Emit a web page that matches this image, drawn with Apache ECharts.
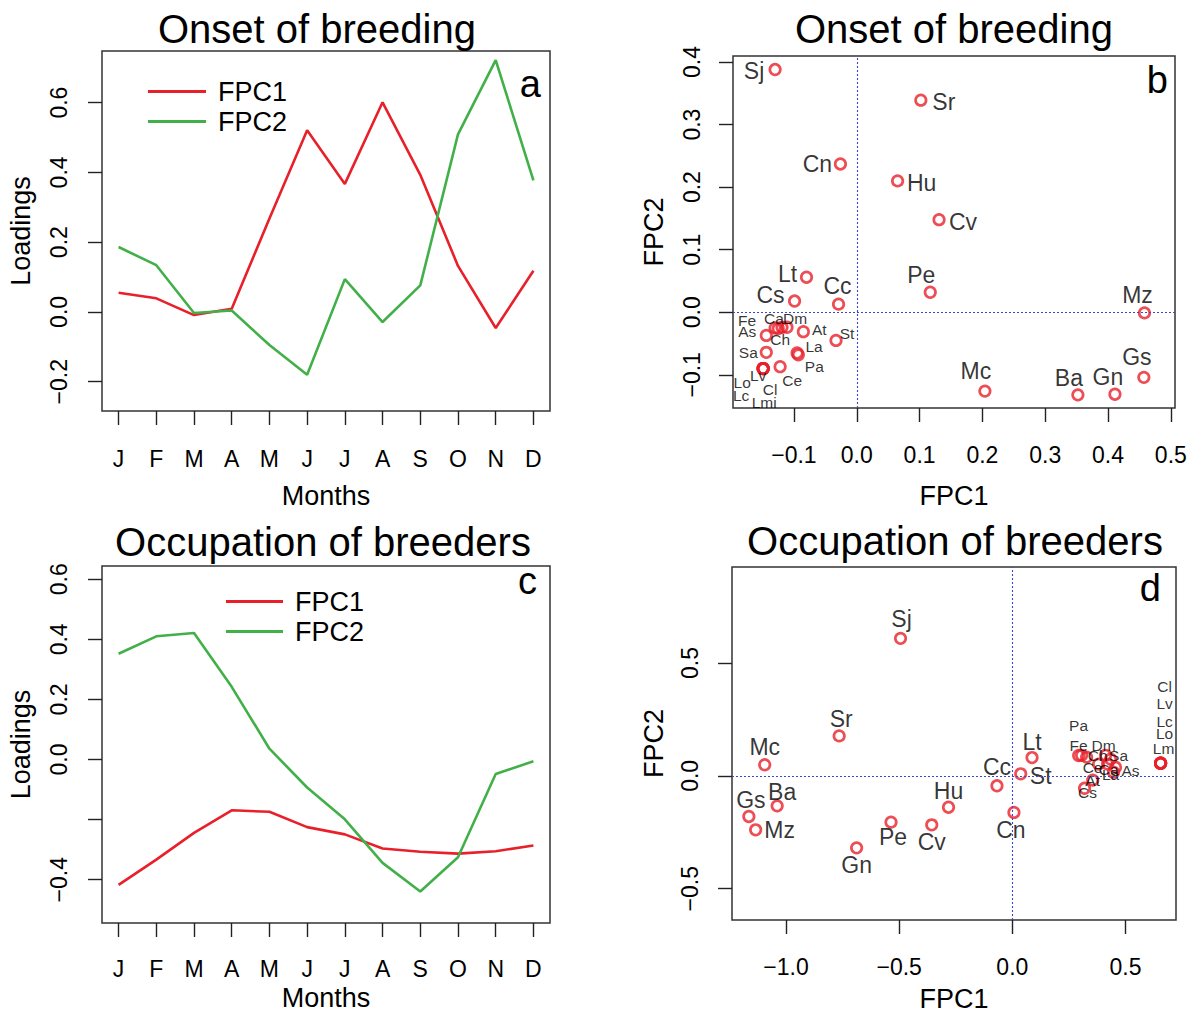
<!DOCTYPE html>
<html><head><meta charset="utf-8">
<script src="https://cdn.jsdelivr.net/npm/echarts@6/dist/echarts.min.js"></script>
<style>html,body{margin:0;padding:0;background:#fff}#c{width:1193px;height:1012px}</style>
</head><body><div id="c"></div>
<script>
// ---------- data ----------
const months = ['J','F','M','A','M','J','J','A','S','O','N','D'];
const onsetFPC1 = [0.055,0.039,-0.009,0.009,0.268,0.521,0.367,0.601,0.393,0.132,-0.046,0.118];
const onsetFPC2 = [0.186,0.134,-0.003,0.004,-0.095,-0.180,0.094,-0.029,0.076,0.509,0.722,0.377];
const occFPC1 = [-0.417,-0.333,-0.244,-0.169,-0.174,-0.225,-0.249,-0.296,-0.307,-0.313,-0.305,-0.286];
const occFPC2 = [0.352,0.410,0.421,0.242,0.036,-0.093,-0.199,-0.344,-0.439,-0.325,-0.048,-0.006];

const onsetSpecies = ['Sj','Sr','Cn','Hu','Cv','Pe','Lt','Cs','Cc','Mz','Gs','Mc','Ba','Gn',
  'Fe','Ch','Ca','Dm','As','At','St','Sa','La','Pa','Ce','Lv','Lo','Cl','Lc','Lmi'];
const onsetScore1 = [-0.130,0.102,-0.026,0.065,0.131,0.117,-0.080,-0.099,-0.029,0.458,0.457,0.204,0.352,0.411,
  -0.130,-0.125,-0.119,-0.111,-0.144,-0.085,-0.033,-0.144,-0.095,-0.093,-0.122,-0.149,-0.149,-0.149,-0.149,-0.149];
const onsetScore2 = [0.388,0.339,0.237,0.210,0.148,0.032,0.056,0.018,0.013,-0.001,-0.104,-0.126,-0.132,-0.131,
  -0.025,-0.026,-0.024,-0.024,-0.037,-0.031,-0.045,-0.064,-0.065,-0.068,-0.087,-0.090,-0.090,-0.090,-0.090,-0.090];

const occSpecies = ['Sj','Sr','Mc','Ba','Gs','Mz','Gn','Pe','Cv','Hu','Cc','Cn','Lt','St',
  'Lm','Lo','Lc','Lv','Cl','Pa','Fe','Ch','Dm','Sa','Ce','Ca','La','As','At','Cs'];
const occScore1 = [-0.494,-0.765,-1.094,-1.039,-1.164,-1.134,-0.688,-0.536,-0.356,-0.282,-0.068,0.007,0.087,0.037,
  0.655,0.655,0.655,0.655,0.655,0.306,0.293,0.328,0.412,0.434,0.381,0.421,0.447,0.456,0.355,0.319];
const occScore2 = [0.609,0.177,0.049,-0.133,-0.180,-0.239,-0.319,-0.205,-0.217,-0.139,-0.044,-0.162,0.081,0.009,
  0.056,0.056,0.056,0.056,0.056,0.091,0.090,0.083,0.091,0.074,0.052,0.052,0.016,0.038,-0.019,-0.055];

const loadTicks = [-0.2,0.0,0.2,0.4,0.6];
const occLoadTicks = [-0.4,-0.2,0.0,0.2,0.4,0.6];
const occLoadLabels = [-0.4,0.0,0.2,0.4,0.6];
const bXTicks = [-0.1,0.0,0.1,0.2,0.3,0.4,0.5];
const bYTicks = [-0.1,0.0,0.1,0.2,0.3,0.4];
const dXTicks = [-1.0,-0.5,0.0,0.5];
const dYTicks = [-0.5,0.0,0.5];

// ---------- label placement (style, not data) ----------
const onsetLabelPlace = {
  Sj:[-21,1],Sr:[23,2],Cn:[-23,0],Hu:[24,2],Cv:[24,2],Pe:[-9,-17],Lt:[-19,-3],Cs:[-24,-6],Cc:[-1,-18],
  Mz:[-7,-18],Gs:[-7,-20],Mc:[-9,-20],Ba:[-9,-17],Gn:[-7,-17],
  Fe:[-28,-7],Ca:[-8,-9],Dm:[8,-9],As:[-19,-4],Ch:[2,11],At:[16,-2],St:[11,-7],Sa:[-18,0],La:[17,-6],
  Pa:[16,12],Ce:[12,14],Lv:[-5,7],Lo:[-21,14],Cl:[7,21],Lc:[-22,27],Lmi:[1,34]
};
const onsetBig = ['Sj','Sr','Cn','Hu','Cv','Pe','Lt','Cs','Cc','Mz','Gs','Mc','Ba','Gn'];
const occLabelPlace = {
  Sj:[1,-19],Sr:[2,-17],Mc:[0,-18],Ba:[5,-14],Gs:[2,-16],Mz:[24,0],Gn:[0,17],Pe:[2,15],Cv:[0,17],
  Hu:[0,-16],Cc:[0,-19],Cn:[-3,18],Lt:[0,-16],St:[20,2],
  Lm:[3,-15],Lo:[4,-30],Lc:[4,-42],Lv:[4,-60],Cl:[4,-77],
  Pa:[-3,-30],Fe:[0,-10],Dm:[-2,-10],Ch:[11,-2],Sa:[8,-4],Ce:[-6,3],Ca:[1,5],As:[15,3],La:[-3,2],At:[0,0],Cs:[3,4]
};
const occBig = ['Sj','Sr','Mc','Ba','Gs','Mz','Gn','Pe','Cv','Hu','Cc','Cn','Lt','St'];

// ---------- styling ----------
const FONT = '"Liberation Sans", Arial, Helvetica, sans-serif';
const RED = '#e8202a', GREEN = '#42b049', BLUE = '#3a48c8';
const fmtNum = v => (Math.abs(v) < 1e-9 ? '0.0' : v.toFixed(1)).replace('-', '\u2212');
const fmtMonth = v => months[Math.round(v) - 1];

function axis(o) {
  return {
    type: 'value', gridIndex: o.g, min: o.min, max: o.max,
    axisLine: { show: false, onZero: false }, splitLine: { show: false },
    axisTick: { show: true, inside: false, length: 14, customValues: o.ticks,
      lineStyle: { color: '#222', width: 1.4 } },
    axisLabel: { show: true, customValues: o.labels || o.ticks, formatter: o.fmt,
      rotate: o.rot || 0, margin: o.margin, fontSize: 23, color: '#000', fontFamily: FONT },
    name: o.name, nameLocation: 'middle', nameGap: o.nameGap, nameRotate: o.rot || 0,
    nameTextStyle: { fontSize: 27, color: '#000', fontFamily: FONT }
  };
}
function gridBox(l, t, w, h) {
  return { left: l, top: t, width: w, height: h, show: true, borderColor: '#333', borderWidth: 1.5,
    backgroundColor: 'transparent', containLabel: false, outerBoundsMode: 'none' };
}
function lineSeries(name, vals, idx, color) {
  return { type: 'line', name, xAxisIndex: idx, yAxisIndex: idx, symbol: 'none', showSymbol: false,
    data: vals.map((v, i) => [i + 1, v]), lineStyle: { color, width: 2.6 }, itemStyle: { color },
    z: 3, silent: true };
}
function scatterSeries(names, xs, ys, idx, place, big) {
  return {
    type: 'scatter', xAxisIndex: idx, yAxisIndex: idx, symbol: 'circle', symbolSize: 10.5,
    itemStyle: { color: 'rgba(255,255,255,0)', borderColor: RED, borderWidth: 2.7 },
    data: names.map((n, i) => ({
      name: n, value: [xs[i], ys[i]],
      label: { show: true, formatter: n, position: 'inside', offset: place[n],
        fontSize: big.includes(n) ? 23 : 15.5, color: '#000', fontFamily: FONT }
    })),
    markLine: { silent: true, symbol: ['none', 'none'], label: { show: false },
      lineStyle: { color: BLUE, type: [2, 2], width: 1.1 },
      data: [{ xAxis: 0 }, { yAxis: 0 }] },
    z: 4
  };
}
function txt(text, x, y, size, align) {
  return { type: 'text', x, y, z: 10, silent: true,
    style: { text, fontSize: size, fontFamily: FONT, fill: '#000',
      align: align, textAlign: align, verticalAlign: 'middle', textVerticalAlign: 'middle' } };
}

const option = {
  animation: false,
  backgroundColor: '#fff',
  grid: [ gridBox(102, 51, 448, 360), gridBox(733, 56, 442, 352),
          gridBox(102, 566, 448, 357), gridBox(732, 567, 444, 353) ],
  xAxis: [
    axis({ g: 0, min: 0.56, max: 12.44, ticks: months.map((m, i) => i + 1), fmt: fmtMonth,
           margin: 36, name: 'Months', nameGap: 71 }),
    axis({ g: 1, min: -0.197, max: 0.5066, ticks: bXTicks, fmt: fmtNum, margin: 35, name: 'FPC1', nameGap: 74 }),
    axis({ g: 2, min: 0.56, max: 12.44, ticks: months.map((m, i) => i + 1), fmt: fmtMonth,
           margin: 34, name: 'Months', nameGap: 61 }),
    axis({ g: 3, min: -1.2385, max: 0.723, ticks: dXTicks, fmt: fmtNum, margin: 35, name: 'FPC1', nameGap: 65 })
  ],
  yAxis: [
    axis({ g: 0, min: -0.284, max: 0.748, ticks: loadTicks, fmt: fmtNum, rot: 90, margin: 32, name: 'Loadings', nameGap: 68 }),
    axis({ g: 1, min: -0.153, max: 0.4096, ticks: bYTicks, fmt: fmtNum, rot: 90, margin: 30, name: 'FPC2', nameGap: 66 }),
    axis({ g: 2, min: -0.544, max: 0.644, ticks: occLoadTicks, labels: occLoadLabels, fmt: fmtNum, rot: 90, margin: 32, name: 'Loadings', nameGap: 68 }),
    axis({ g: 3, min: -0.6385, max: 0.925, ticks: dYTicks, fmt: fmtNum, rot: 90, margin: 31, name: 'FPC2', nameGap: 65 })
  ],
  legend: [
    { data: ['FPC1', 'FPC2'], orient: 'vertical', left: 148, top: 78, padding: 0, itemGap: 3,
      itemWidth: 58, itemHeight: 3, icon: 'rect', selectedMode: false,
      textStyle: { fontSize: 27, color: '#000', fontFamily: FONT, padding: [0, 0, 0, 7] } },
    { data: ['FPC1', 'FPC2'], orient: 'vertical', left: 226, top: 588, padding: 0, itemGap: 3,
      itemWidth: 57, itemHeight: 3, icon: 'rect', selectedMode: false,
      textStyle: { fontSize: 27, color: '#000', fontFamily: FONT, padding: [0, 0, 0, 7] } }
  ],
  series: [
    lineSeries('FPC1', onsetFPC1, 0, RED),
    lineSeries('FPC2', onsetFPC2, 0, GREEN),
    scatterSeries(onsetSpecies, onsetScore1, onsetScore2, 1, onsetLabelPlace, onsetBig),
    lineSeries('FPC1', occFPC1, 2, RED),
    lineSeries('FPC2', occFPC2, 2, GREEN),
    scatterSeries(occSpecies, occScore1, occScore2, 3, occLabelPlace, occBig)
  ],
  graphic: [
    txt('Onset of breeding', 317, 29, 40, 'center'),
    txt('Onset of breeding', 954, 29, 40, 'center'),
    txt('Occupation of breeders', 323, 542, 40, 'center'),
    txt('Occupation of breeders', 955, 541, 40, 'center'),
    txt('a', 541, 84, 38, 'right'),
    txt('b', 1168, 80, 38, 'right'),
    txt('c', 537, 581, 38, 'right'),
    txt('d', 1161, 588, 38, 'right')
  ]
};
const chart = echarts.init(document.getElementById('c'), null, { renderer: 'svg', width: 1193, height: 1012 });
chart.setOption(option);
</script>
</body></html>
